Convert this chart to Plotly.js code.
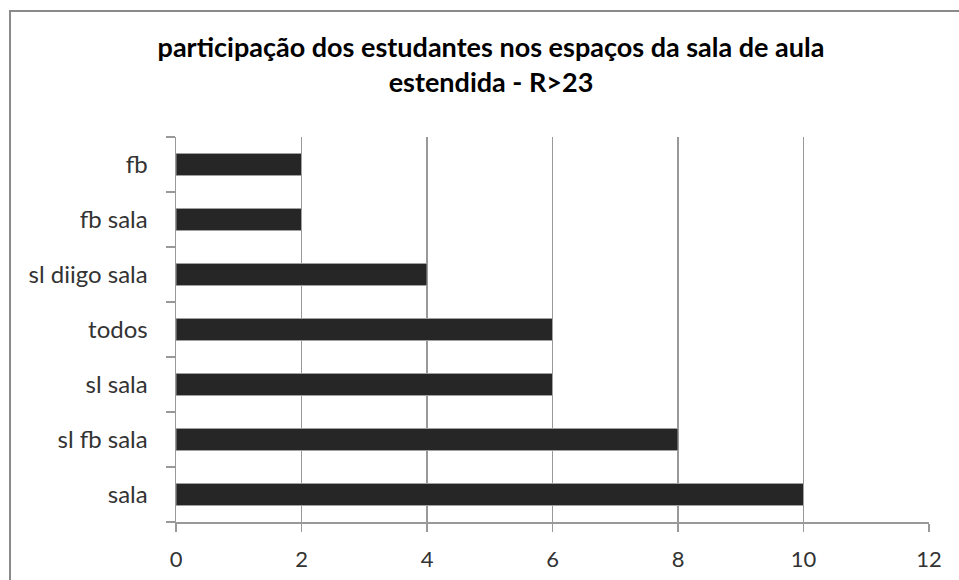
<!DOCTYPE html>
<html>
<head>
<meta charset="utf-8">
<script src="https://cdn.plot.ly/plotly-3.0.1.min.js"></script>
<style>
  html, body { margin: 0; padding: 0; background: #ffffff; }
  #chart { width: 959px; height: 580px; }
</style>
</head>
<body>
<div id="chart"></div>
<script>
// Categories listed bottom-to-top, as Plotly stacks a category axis upward
const categories = ['sala', 'sl fb sala', 'sl sala', 'todos', 'sl diigo sala', 'fb sala', 'fb'];
const participacao = [10, 8, 6, 6, 4, 2, 2];
const xTicks = [0, 2, 4, 6, 8, 10, 12];

const W = 959, H = 580;
const M = { l: 176, r: 30, t: 137, b: 58 };
const pw = W - M.l - M.r, ph = H - M.t - M.b;
// pixel -> paper helpers for the outer frame
const px = v => (v - M.l) / pw;
const py = v => (H - M.b - v) / ph;

const FONT = 'Lato, "Open Sans", sans-serif';
const GRID = '#999999';

const trace = {
  type: 'bar',
  orientation: 'h',
  y: categories,
  x: participacao,
  marker: { color: '#262626', line: { color: '#a0a0a0', width: 1 } },
  hoverinfo: 'x+y'
};

const layout = {
  width: W,
  height: H,
  margin: M,
  paper_bgcolor: '#ffffff',
  plot_bgcolor: '#ffffff',
  showlegend: false,
  bargap: 0.6,
  title: {
    text: '<b>participação dos estudantes nos espaços da sala de aula<br>estendida - R>23</b>',
    font: { family: FONT, size: 27, color: '#000000' },
    xref: 'container', x: 491 / W, xanchor: 'center',
    yref: 'container', y: 1 - 57 / H, yanchor: 'top'
  },
  xaxis: {
    range: [0, 12],
    tickvals: xTicks,
    ticktext: xTicks.map(String),
    showgrid: true,
    gridcolor: GRID,
    gridwidth: 1.5,
    zeroline: false,
    showline: true,
    linecolor: GRID,
    linewidth: 1.5,
    ticks: 'outside',
    ticklen: 8,
    tickwidth: 1.5,
    tickcolor: GRID,
    ticklabelstandoff: 9,
    tickfont: { family: FONT, size: 22, color: '#333333' },
    fixedrange: true
  },
  yaxis: {
    type: 'category',
    showgrid: false,
    zeroline: false,
    showline: true,
    linecolor: GRID,
    linewidth: 1.5,
    ticks: 'outside',
    tickson: 'boundaries',
    ticklen: 9,
    tickwidth: 1.5,
    tickcolor: GRID,
    ticklabelstandoff: 22,
    tickfont: { family: FONT, size: 24, color: '#333333' },
    fixedrange: true
  },
  shapes: [
    // outer chart frame (left and top edges)
    { type: 'line', xref: 'paper', yref: 'paper', x0: px(10), x1: px(10), y0: py(10.5), y1: py(H + 5),
      line: { color: '#8a8a8a', width: 2 } },
    { type: 'line', xref: 'paper', yref: 'paper', x0: px(9), x1: px(W + 5), y0: py(11), y1: py(11),
      line: { color: '#8a8a8a', width: 2 } }
  ]
};

Plotly.newPlot('chart', [trace], layout, { displayModeBar: false, staticPlot: true });
</script>
</body>
</html>
